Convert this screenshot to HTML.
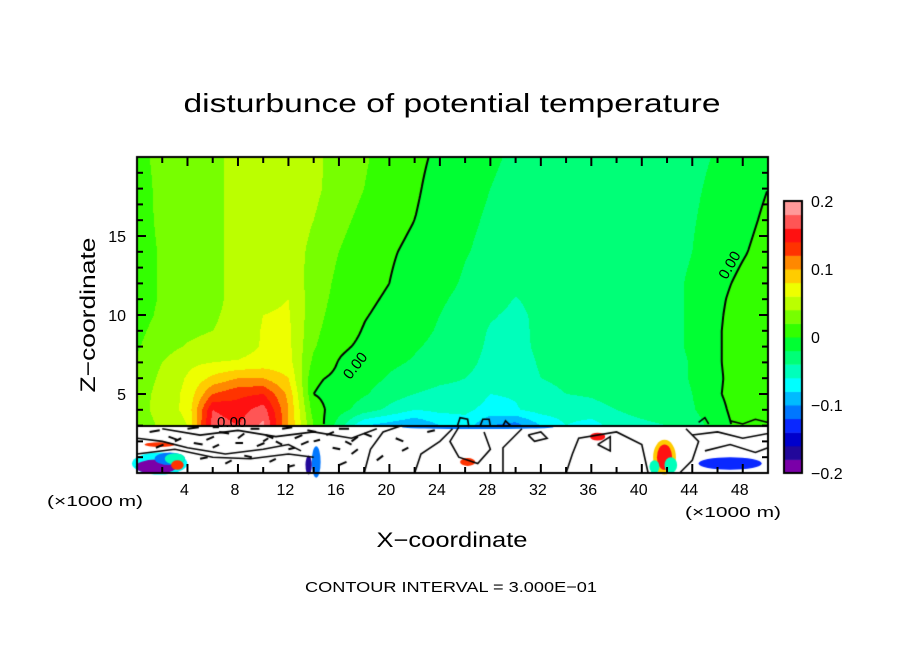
<!DOCTYPE html>
<html><head><meta charset="utf-8"><style>
html,body{margin:0;padding:0;background:#fff;}
#wrap{position:relative;width:904px;height:654px;overflow:hidden;font-family:"Liberation Sans",sans-serif;}
canvas,svg{position:absolute;left:0;top:0;}
</style></head><body>
<div id="wrap">
<canvas id="cv" width="904" height="654"></canvas>
<svg id="sv" width="904" height="654">
<text x="452" y="112" text-anchor="middle" font-size="26" textLength="537" lengthAdjust="spacingAndGlyphs" font-family="Liberation Sans, sans-serif">disturbunce of potential temperature</text>
<text transform="translate(95,315) rotate(-90)" text-anchor="middle" font-size="21" textLength="155" lengthAdjust="spacingAndGlyphs">Z−coordinate</text>
<text x="452" y="547" text-anchor="middle" font-size="21" textLength="151" lengthAdjust="spacingAndGlyphs">X−coordinate</text>
<text x="451" y="592" text-anchor="middle" font-size="15" textLength="292" lengthAdjust="spacingAndGlyphs">CONTOUR INTERVAL = 3.000E−01</text>
<text x="95" y="506" text-anchor="middle" font-size="15" textLength="96" lengthAdjust="spacingAndGlyphs">(×1000 m)</text>
<text x="733" y="517" text-anchor="middle" font-size="15" textLength="96" lengthAdjust="spacingAndGlyphs">(×1000 m)</text>
<g id="overlay"></g>
</svg>
</div>
<script>
// ---- data ----
const xGrid = [0,2,4,6,8,10,12,14,16,18,20,22,24,26,28,30,32,34,36,38,40,42,44,46,48,50];
const zGrid = [3,4,5,6,7,8,9,10,11,12,14,16,18,20];
const field = [
 [.025,.045,.06,.17,.16,.185,.1,.02,-.03,-.08,-.09,-.1,-.08,-.07,-.1,-.11,-.08,-.06,-.07,-.05,-.045,-.04,-.03,-.01,.008,.012],
 [.03,.05,.065,.16,.15,.17,.1,.01,-.012,-.03,-.045,-.06,-.055,-.055,-.068,-.062,-.052,-.05,-.046,-.04,-.033,-.028,-.022,-.006,.01,.014],
 [.03,.048,.065,.12,.135,.14,.095,.0,-.008,-.018,-.03,-.04,-.045,-.045,-.06,-.058,-.046,-.04,-.038,-.033,-.03,-.026,-.02,-.002,.01,.014],
 [.025,.045,.062,.085,.1,.1,.08,.003,-.004,-.012,-.022,-.03,-.036,-.04,-.048,-.05,-.04,-.036,-.034,-.031,-.029,-.025,-.019,-.003,.01,.014],
 [.022,.04,.055,.06,.062,.068,.068,.015,-.001,-.008,-.016,-.022,-.03,-.034,-.046,-.048,-.038,-.036,-.04,-.03,-.028,-.025,-.019,-.002,.01,.014],
 [.018,.032,.042,.048,.05,.062,.065,.022,.003,-.003,-.01,-.018,-.025,-.03,-.044,-.046,-.036,-.034,-.036,-.03,-.027,-.024,-.018,-.002,.01,.014],
 [.015,.028,.035,.04,.045,.062,.064,.025,.007,-.001,-.007,-.014,-.022,-.028,-.042,-.045,-.036,-.032,-.031,-.029,-.027,-.024,-.018,-.002,.01,.014],
 [.012,.024,.032,.038,.045,.06,.062,.028,.01,.001,-.004,-.012,-.02,-.026,-.038,-.044,-.036,-.031,-.03,-.029,-.027,-.024,-.018,-.003,.01,.014],
 [.012,.022,.03,.036,.045,.056,.06,.03,.013,.003,-.002,-.01,-.018,-.024,-.032,-.041,-.034,-.03,-.03,-.028,-.027,-.024,-.018,-.004,.008,.013],
 [.012,.022,.03,.036,.045,.05,.052,.032,.015,.005,.0,-.008,-.015,-.022,-.028,-.034,-.032,-.03,-.029,-.028,-.027,-.024,-.018,-.006,.005,.012],
 [.012,.022,.03,.036,.045,.05,.05,.035,.02,.01,.002,-.004,-.012,-.019,-.024,-.028,-.029,-.028,-.028,-.028,-.027,-.025,-.02,-.012,-.002,.008],
 [.012,.024,.03,.036,.045,.05,.05,.04,.025,.015,.006,.0,-.01,-.017,-.022,-.026,-.027,-.027,-.027,-.027,-.027,-.025,-.021,-.015,-.006,.004],
 [.012,.025,.03,.036,.045,.05,.05,.045,.03,.02,.01,.003,-.008,-.015,-.02,-.024,-.026,-.026,-.026,-.026,-.026,-.025,-.022,-.017,-.009,.0],
 [.015,.025,.03,.036,.045,.05,.05,.045,.032,.022,.013,.005,-.004,-.012,-.018,-.022,-.025,-.025,-.025,-.025,-.025,-.025,-.023,-.019,-.012,-.002]
];
const bandColors = ["#7a00a8","#22089a","#0000cc","#0a28ff","#0077ff","#00bbff","#00ffff","#00ffbb","#00ff77","#00ff33","#33ff00","#77ff00","#bbff00","#eeff00","#ffcc00","#ff8800","#ff3300","#ff1111","#ff5555","#ff9999"];
const xTicks = [4,8,12,16,20,24,28,32,36,40,44,48];
const zTicks = [5,10,15];
const cbTicks = [0.2,0.1,0,-0.1,-0.2];
const cbLabels = ["0.2","0.1","0","−0.1","−0.2"];
// surface-layer blobs (x km, z km, rx km, rz km, value)
const blobs = [[1.8,0.6,2.2,0.7,-0.07],[1.5,0.4,1.6,0.45,-0.19],[2.6,0.9,1.2,0.4,-0.12],[3,0.9,0.8,0.35,-0.05],[3.2,0.5,0.5,0.3,0.12],
 [14.2,0.7,0.35,1,-0.12],[13.6,0.5,0.25,0.6,-0.17],[27,2.9,6,0.12,-0.12],
 [41.8,1.0,0.9,1.1,0.09],[41.8,1.0,0.6,0.8,0.15],[42.3,0.5,0.5,0.5,-0.05],[41,0.4,0.4,0.4,-0.06],[47,0.6,2.5,0.4,-0.13],[36.5,2.3,0.6,0.25,0.15],[26.2,0.7,0.6,0.25,0.12],[1.8,1.8,1.2,0.15,0.12]];
// surface contour scribbles (x km, z km pairs)
const scribbles = [
 [[0,2.2],[2,2],[4,1.6],[7,1.2],[10,1.5],[12,1.8],[13,1.4]],
 [[0,1.2],[3,1.5],[6,1.0],[9,0.9],[12,1.2],[14,1.0]],
 [[2,2.8],[5,2.4],[8,2.7],[11,2.3],[14,2.6],[17,2.2],[19,2.8]],
 [[18,0],[18.5,1.5],[19.5,2.6],[21,3]],
 [[22,0],[22.5,1.2],[24,2],[25,2.8]],
 [[25.5,2.9],[24.8,2],[25.5,1],[27,0.6],[28,1.5],[27.5,2.6]],
 [[29,0],[29,1.6],[30.5,2.8]],
 [[31,2.4],[32,2.6],[32.5,2.2],[31.5,2.0],[31,2.4]],
 [[34,0],[34.5,1.2],[35,2.2],[38,2.6],[40,1.8],[40.5,0]],
 [[36.5,1.8],[37.5,1.4],[37.5,2.3],[36.5,1.8]],
 [[43,0],[44,0.8],[44.5,2],[43.5,2.8]],
 [[44,2.4],[46,2.6],[48,2.2],[50,2.5]],
 [[45,1.4],[47,1.8],[49,1.3],[50,1.6]],
 [[25.4,3],[25.6,3.5],[26.2,3.4],[26.3,2.9]],[[27.2,3],[27.4,3.4],[27.9,3.4],[28,3]],[[29,3],[29.2,3.3],[29.6,3]],
 [[44.5,3.2],[45,3.5],[45.3,3.1]],[[47,3.3],[48,3.1],[49,3.4],[50,3.2]]
];
// short contour dashes in the surface layer (x km, z km, dx km, dz km)
const dashes = [
 [1,2.6,0.8,0.1],[2.5,2.3,0.7,-0.2],[4,2.8,0.9,0.1],[5.5,2.1,0.6,0.2],[6.5,2.6,0.8,-0.1],[8,2.2,0.5,0.3],[9,2.8,0.7,0],[10.2,2.4,0.6,-0.2],
 [11.5,2.8,0.8,0.1],[12.5,2.2,0.6,0.2],[13.5,2.7,0.7,-0.1],[15,2.4,0.6,0.2],[16,2.8,0.8,0],[17,2.0,0.5,0.3],[18,2.5,0.6,-0.2],
 [1.5,1.6,0.6,0.2],[4.5,1.9,0.7,-0.1],[6,1.6,0.5,0.2],[7.8,1.9,0.6,0],[9.5,1.7,0.6,0.2],[11,2.0,0.5,-0.2],[13,1.8,0.6,0.2],[15.5,1.6,0.6,-0.1],[17,1.2,0.5,0.3],
 [5,0.9,0.6,0.1],[7,0.6,0.5,0.2],[8.5,1.1,0.6,-0.1],[10.5,0.7,0.5,0.2],[12,0.4,0.5,0.1],[16,0.5,0.6,0.2],[19,0.8,0.5,0.3],[20.5,2.2,0.6,-0.2],
 [21,1.4,0.5,0.2],[23,2.6,0.6,0.1],[3,2.0,0.5,0.2],[14,2.0,0.5,0.1],[6,2.9,0.5,0],[10,2.0,0.4,0.2],[16.5,2.0,0.5,-0.2],[12,1.5,0.5,0.1]
];
// ---- axes ----
const L=137,T=157,W=631,H=316,XMAX=50,ZMAX=20,ZBOT=3;
const X = x => L + x/XMAX*W;
const Z = z => T + H - z/ZMAX*H;
function valAt(x,z){
  let i=0; while(i<xGrid.length-2 && x>xGrid[i+1]) i++;
  let j=0; while(j<zGrid.length-2 && z>zGrid[j+1]) j++;
  const tx=Math.min(1,Math.max(0,(x-xGrid[i])/(xGrid[i+1]-xGrid[i])));
  const tz=Math.min(1,Math.max(0,(z-zGrid[j])/(zGrid[j+1]-zGrid[j])));
  const a=field[j][i],b=field[j][i+1],c=field[j+1][i],d=field[j+1][i+1];
  return a*(1-tx)*(1-tz)+b*tx*(1-tz)+c*(1-tx)*tz+d*tx*tz;
}
function bandOf(v){ let k=Math.floor((v+0.2)/0.02); return Math.max(0,Math.min(19,k)); }
const cv=document.getElementById('cv'); const ctx=cv.getContext('2d');
ctx.fillStyle="#fff"; ctx.fillRect(L,T,W,H);
const ytop=Math.round(Z(ZBOT));
for(let py=T;py<ytop;py++){
  const z=(T+H-py-0.5)/H*ZMAX;
  for(let px=L;px<L+W;px++){
    const x=(px+0.5-L)/W*XMAX;
    ctx.fillStyle=bandColors[bandOf(valAt(x,z))];
    ctx.fillRect(px,py,1,1);
  }
}
// surface blobs
blobs.forEach(b=>{
  ctx.fillStyle=bandColors[bandOf(b[4])];
  ctx.beginPath(); ctx.ellipse(X(b[0]),Z(b[1]),b[2]/XMAX*W,b[3]/ZMAX*H,0,0,Math.PI*2); ctx.fill();
});
// zero contour via marching squares
ctx.strokeStyle="#000"; ctx.lineWidth=2;
const step=3;
ctx.beginPath();
for(let py=T;py<ytop-step;py+=step){
  for(let px=L;px<L+W-step;px+=step){
    const f=(qx,qy)=>valAt((qx-L)/W*XMAX,(T+H-qy)/H*ZMAX);
    const v=[f(px,py),f(px+step,py),f(px+step,py+step),f(px,py+step)];
    const pts=[[px,py],[px+step,py],[px+step,py+step],[px,py+step]];
    const cross=[];
    for(let e=0;e<4;e++){const a=v[e],b=v[(e+1)%4];
      if((a>0)!==(b>0)){const t=a/(a-b);const p=pts[e],q=pts[(e+1)%4];cross.push([p[0]+(q[0]-p[0])*t,p[1]+(q[1]-p[1])*t]);}}
    if(cross.length>=2){ctx.moveTo(cross[0][0],cross[0][1]);ctx.lineTo(cross[1][0],cross[1][1]);}
    if(cross.length===4){ctx.moveTo(cross[2][0],cross[2][1]);ctx.lineTo(cross[3][0],cross[3][1]);}
  }
}
ctx.stroke();
// surface boundary + scribbles
ctx.lineWidth=2; ctx.beginPath(); ctx.moveTo(L,ytop); ctx.lineTo(L+W,ytop); ctx.stroke();
ctx.lineWidth=1.6;
scribbles.forEach(s=>{ctx.beginPath(); s.forEach((p,k)=>{k?ctx.lineTo(X(p[0]),Z(p[1])):ctx.moveTo(X(p[0]),Z(p[1]));}); ctx.stroke();});
ctx.lineWidth=2;
dashes.forEach(d=>{ctx.beginPath(); ctx.moveTo(X(d[0]),Z(d[1])); ctx.lineTo(X(d[0]+d[2]),Z(d[1]+d[3])); ctx.stroke();});
// colorbar
const CBX=784,CBW=18,CBT=201,CBH=272;
bandColors.forEach((c,k)=>{ctx.fillStyle=c; ctx.fillRect(CBX,CBT+CBH-(k+1)*CBH/20,CBW,CBH/20+0.5);});
ctx.lineWidth=2; ctx.strokeRect(CBX,CBT,CBW,CBH);
ctx.strokeRect(L,T,W,H);
// ---- SVG overlay ----
const NS="http://www.w3.org/2000/svg"; const g=document.getElementById('overlay');
function mk(tag,attrs){const e=document.createElementNS(NS,tag); for(const k in attrs) e.setAttribute(k,attrs[k]); g.appendChild(e); return e;}
for(let x=2;x<XMAX;x+=2){
  const len = x%4===0?9:6;
  let t=mk('line',{x1:X(x),x2:X(x),y1:T,y2:T+len,stroke:'#000','stroke-width':2});
  
  
  t=mk('line',{x1:X(x),x2:X(x),y1:T+H,y2:T+H-len,stroke:'#000','stroke-width':2});
  
  
}
for(let z=1;z<ZMAX;z++){
  const len = z%5===0?9:6;
  let t=mk('line',{x1:L,x2:L+len,y1:Z(z),y2:Z(z),stroke:'#000','stroke-width':2});
  
  
  t=mk('line',{x1:L+W,x2:L+W-len,y1:Z(z),y2:Z(z),stroke:'#000','stroke-width':2});
  
  
}
xTicks.forEach(x=>{const t=mk('text',{x:X(x)-3,y:495,'text-anchor':'middle','font-size':16});
  t.textContent=String(x);
  
  });
zTicks.forEach(z=>{const t=mk('text',{x:126,y:Z(z)+6,'text-anchor':'end','font-size':16});
  t.textContent=String(z);
  
  });
cbTicks.forEach((v,k)=>{const t=mk('text',{x:811,y:CBT+CBH*(0.2-v)/0.4+6,'font-size':16});
  t.textContent=cbLabels[k];
  
  });
// contour labels
[[17.6,6.6,-52],[47.3,13,-60],[7.5,2.9,0]].forEach(p=>{
  const t=mk('text',{x:0,y:0,'font-size':15,'text-anchor':'middle',transform:`translate(${X(p[0])},${Z(p[1])}) rotate(${p[2]})`});
  t.textContent='0.00';
  
  
});
</script>
</body></html>
